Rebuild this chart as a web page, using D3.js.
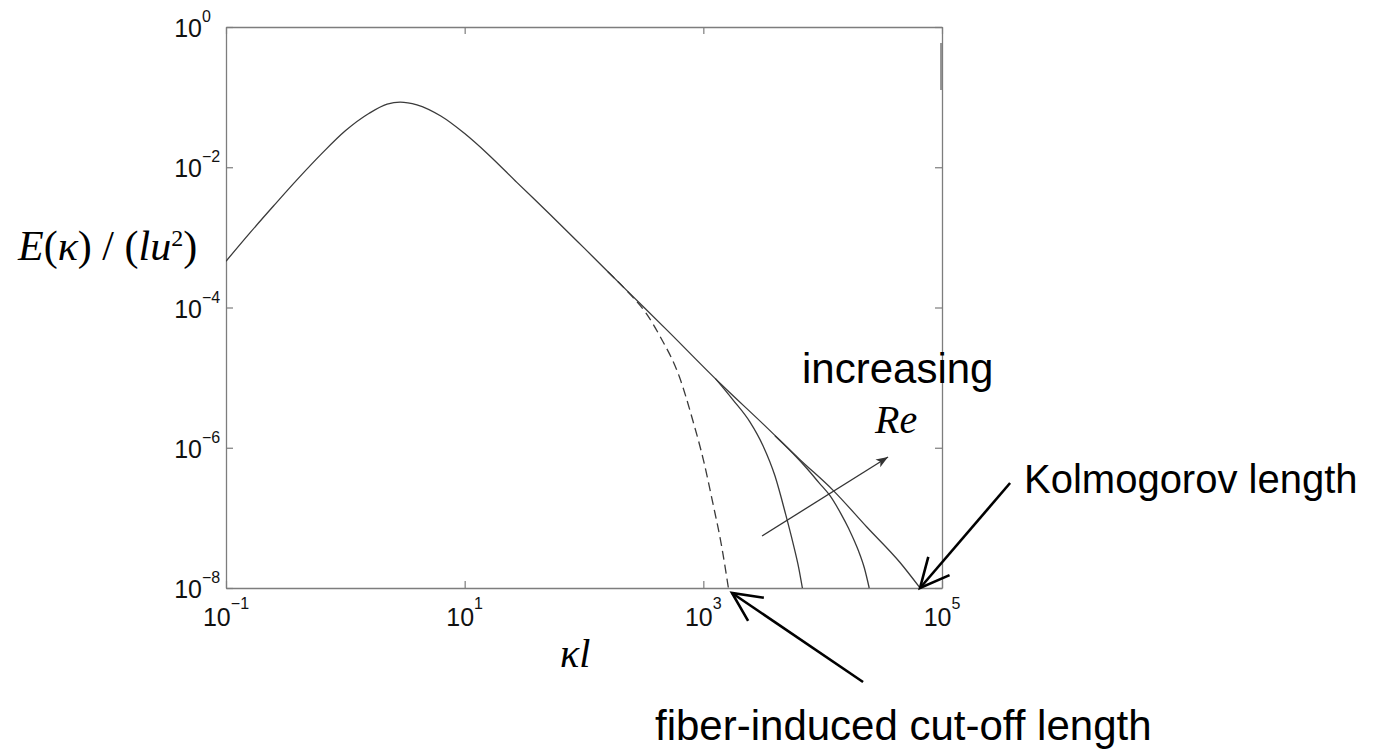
<!DOCTYPE html>
<html><head><meta charset="utf-8">
<script src="https://cdn.jsdelivr.net/npm/d3@7/dist/d3.min.js"></script>
<style>html,body{margin:0;padding:0;background:#fff;} svg{display:block}</style>
</head><body>
<svg id="chart" width="1389" height="753"></svg>
<script>
// ---- tick labels ----
const xTickValues = [0.1, 10, 1e3, 1e5];
const xTickExponents = ["\u22121", "1", "3", "5"];
const yTickValues = [1, 1e-2, 1e-4, 1e-6, 1e-8];
const yTickExponents = ["0", "\u22122", "\u22124", "\u22126", "\u22128"];

// ---- series (kappa*l , E/(l u^2)) ----
// highest Re: reaches the Kolmogorov length
const kolmogorovX = [0.1, 0.158, 0.251, 0.398, 0.631, 1, 1.585, 2.24, 2.88, 3.98, 6.31, 10, 15.85, 27.5, 52.5, 100, 214, 501, 1380, 3162, 6457, 12300, 23440, 44670, 65460];
const kolmogorovY = [4.57e-4, 1.15e-3, 2.82e-3, 6.76e-3, 1.55e-2, 3.31e-2, 5.89e-2, 7.94e-2, 8.51e-2, 7.76e-2, 5.37e-2, 3.02e-2, 1.51e-2, 6.03e-3, 2.09e-3, 7.08e-4, 1.95e-4, 4.68e-5, 8.32e-6, 2.19e-6, 6.76e-7, 2.45e-7, 7.41e-8, 2.29e-8, 1e-8];
// intermediate Re
const reMidX = [3981, 5623, 7413, 9333, 11480, 14130, 16600, 19950, 22390, 24550];
const reMidY = [1.48e-6, 8.32e-7, 5.01e-7, 3.16e-7, 2.09e-7, 1.17e-7, 6.92e-8, 3.39e-8, 1.91e-8, 1e-8];
// lower Re
const reLowX = [1259, 1778, 2455, 3162, 3981, 4898, 5623, 6310, 6761];
const reLowY = [9.77e-6, 4.79e-6, 2.34e-6, 1.07e-6, 3.98e-7, 1.12e-7, 4.47e-8, 1.91e-8, 1e-8];
// fiber-induced cut-off (dashed)
const fiberX = [158.5, 242.7, 331, 436.5, 631, 813, 1000, 1202, 1429, 1622];
const fiberY = [3.24e-4, 1.55e-4, 8.32e-5, 3.80e-5, 1.02e-5, 2.51e-6, 6.76e-7, 1.62e-7, 3.80e-8, 1e-8];

// ---- annotation arrows in data units [from, to] ----
const kolmogorovArrow = [[3.72e5, 3.14e-7], [65460, 1e-8]];
const fiberArrow = [[2.18e4, 4.57e-10], [1738, 8.49e-9]];
const reArrow = [[3105, 5.52e-8], [3.53e4, 7.38e-7]];

const svg = d3.select("#chart");
const L = 226, R = 942, T = 27, B = 588;
const x = d3.scaleLog().domain([0.1, 1e5]).range([L, R]);
const y = d3.scaleLog().domain([1e-8, 1]).range([B, T]);

const defs = svg.append("defs");
defs.append("clipPath").attr("id", "plotclip").append("rect")
  .attr("x", L).attr("y", T - 2).attr("width", R - L).attr("height", B - T + 3);
defs.append("marker").attr("id", "openHead").attr("markerUnits", "userSpaceOnUse")
  .attr("viewBox", "-36 -20 40 40").attr("markerWidth", 40).attr("markerHeight", 40)
  .attr("refX", 0).attr("refY", 0).attr("orient", "auto")
  .append("path").attr("d", "M-29,-14 L0,0 L-29,14").attr("fill", "none")
  .attr("stroke", "#000").attr("stroke-width", 2.6);
defs.append("marker").attr("id", "solidHead").attr("markerUnits", "userSpaceOnUse")
  .attr("viewBox", "-16 -8 20 16").attr("markerWidth", 20).attr("markerHeight", 16)
  .attr("refX", 0).attr("refY", 0).attr("orient", "auto")
  .append("path").attr("d", "M-12,-4.5 L0,0 L-12,4.5 L-9,0 Z").attr("fill", "#333");

// ---- axes (box with inward ticks) ----
const frameColor = "#7d7d7d";
function styleAxis(g) {
  g.selectAll(".domain").attr("stroke", frameColor).attr("stroke-width", 1.3);
  g.selectAll(".tick line").attr("stroke", frameColor).attr("stroke-width", 1.2);
}
const gBottom = svg.append("g").attr("transform", `translate(0,${B})`)
  .call(d3.axisBottom(x).tickValues(xTickValues).tickSizeInner(-7).tickSizeOuter(0).tickFormat(() => ""));
const gTop = svg.append("g").attr("transform", `translate(0,${T})`)
  .call(d3.axisTop(x).tickValues(xTickValues).tickSizeInner(-7).tickSizeOuter(0).tickFormat(() => ""));
const gLeft = svg.append("g").attr("transform", `translate(${L},0)`)
  .call(d3.axisLeft(y).tickValues(yTickValues).tickSizeInner(-7).tickSizeOuter(0).tickFormat(() => ""));
const gRight = svg.append("g").attr("transform", `translate(${R},0)`)
  .call(d3.axisRight(y).tickValues(yTickValues).tickSizeInner(-7).tickSizeOuter(0).tickFormat(() => ""));
[gBottom, gTop, gLeft, gRight].forEach(styleAxis);
// darker short stretch on the right border, as in the scanned original
svg.append("line").attr("x1", R - 1).attr("x2", R - 1).attr("y1", y(0.59)).attr("y2", y(0.126))
  .attr("stroke", "#555").attr("stroke-width", 1.2);

const tickFont = "'Liberation Sans', Arial, Helvetica, sans-serif";
// x tick labels
xTickValues.forEach((v, i) => {
  const t = svg.append("text").attr("x", x(v)).attr("y", B + 38)
    .attr("text-anchor", "middle").attr("font-family", tickFont).attr("fill", "#111");
  t.append("tspan").attr("font-size", 25).text("10");
  t.append("tspan").attr("font-size", 16).attr("dy", -17).text(xTickExponents[i]);
});
// y tick labels
yTickValues.forEach((v, i) => {
  svg.append("text").attr("x", 202).attr("y", y(v) + 10).attr("text-anchor", "end")
    .attr("font-family", tickFont).attr("font-size", 25).attr("fill", "#111").text("10");
  svg.append("text").attr("x", 202).attr("y", y(v) - 5).attr("text-anchor", "start")
    .attr("font-family", tickFont).attr("font-size", 16).attr("fill", "#111").text(yTickExponents[i]);
});

// ---- curves ----
const line = d3.line().x(d => x(d[0])).y(d => y(d[1])).curve(d3.curveMonotoneX);
const plot = svg.append("g").attr("clip-path", "url(#plotclip)");
function drawSeries(xs, ys, dashed) {
  plot.append("path").datum(xs.map((v, i) => [v, ys[i]]))
    .attr("d", line).attr("fill", "none").attr("stroke", "#3a3a3a")
    .attr("stroke-width", 1.3).attr("stroke-dasharray", dashed ? "9,5" : null);
}
drawSeries(fiberX, fiberY, true);
drawSeries(reLowX, reLowY, false);
drawSeries(reMidX, reMidY, false);
drawSeries(kolmogorovX, kolmogorovY, false);

// ---- annotation arrows ----
function arrow(pts, marker, color, width) {
  svg.append("line")
    .attr("x1", x(pts[0][0])).attr("y1", y(pts[0][1]))
    .attr("x2", x(pts[1][0])).attr("y2", y(pts[1][1]))
    .attr("stroke", color).attr("stroke-width", width)
    .attr("marker-end", `url(#${marker})`);
}
arrow(reArrow, "solidHead", "#333", 1.3);
arrow(kolmogorovArrow, "openHead", "#000", 2.6);
arrow(fiberArrow, "openHead", "#000", 2.6);

// ---- texts ----
const sans = "'Liberation Sans', Arial, Helvetica, sans-serif";
const serif = "'Liberation Serif', 'Times New Roman', Times, serif";
svg.append("text").attr("x", 802).attr("y", 383).attr("font-family", sans)
  .attr("font-size", 42).attr("fill", "#000").text("increasing");
svg.append("text").attr("x", 875).attr("y", 433).attr("font-family", serif)
  .attr("font-style", "italic").attr("font-size", 40).attr("fill", "#000").text("Re");
svg.append("text").attr("x", 1024).attr("y", 493).attr("font-family", sans)
  .attr("font-size", 40).attr("fill", "#000").text("Kolmogorov length");
svg.append("text").attr("x", 655).attr("y", 740).attr("font-family", sans)
  .attr("font-size", 42).attr("fill", "#000").text("fiber-induced cut-off length");

// x-axis title: κl
svg.append("text").attr("x", 560).attr("y", 667).attr("font-family", serif)
  .attr("font-style", "italic").attr("font-size", 40).attr("fill", "#000").text("\u03BAl");

// y-axis title: E(κ) / (lu²)
const yl = svg.append("text").attr("x", 18).attr("y", 260).attr("font-family", serif)
  .attr("font-size", 42).attr("fill", "#000");
yl.append("tspan").attr("font-style", "italic").text("E");
yl.append("tspan").text("(");
yl.append("tspan").attr("font-style", "italic").text("\u03BA");
yl.append("tspan").text(") / (");
yl.append("tspan").attr("font-style", "italic").text("lu");
yl.append("tspan").attr("font-size", 24).attr("dy", -14).text("2");
yl.append("tspan").attr("dy", 14).text(")");
</script>
</body></html>
